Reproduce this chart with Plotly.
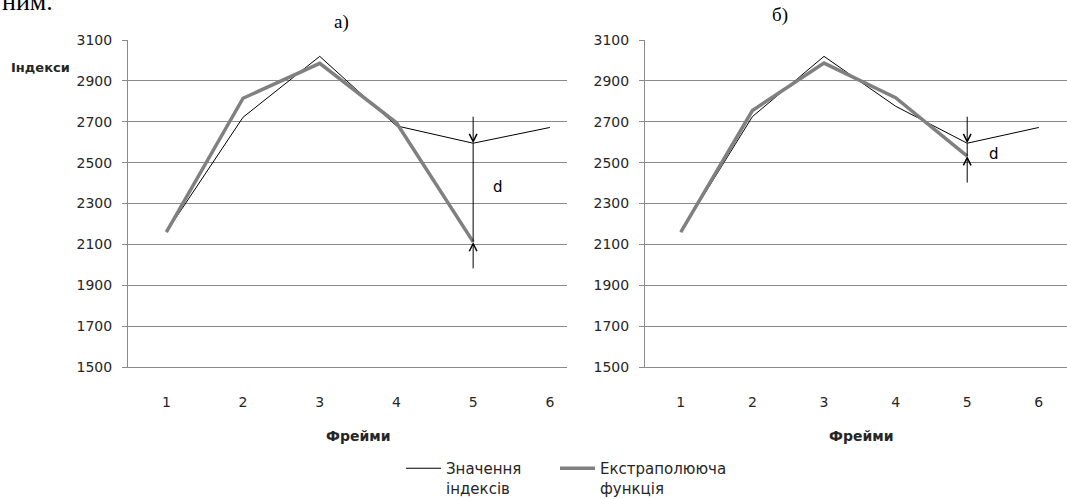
import plotly.graph_objects as go

# ---- data ----
frames = [1, 2, 3, 4, 5, 6]
tick_labels = ["1", "2", "3", "4", "5", "6"]
a_index = [2160, 2722, 3020, 2680, 2595, 2672]      # Значення індексів (а)
a_extrap = [2160, 2815, 2986, 2695, 2112]           # Екстраполююча функція (а)
b_index = [2160, 2725, 3020, 2776, 2595, 2672]      # Значення індексів (б)
b_extrap = [2160, 2755, 2987, 2818, 2532]           # Екстраполююча функція (б)
y_ticks = [1500, 1700, 1900, 2100, 2300, 2500, 2700, 2900, 3100]

W, H = 1067, 499
GRID = "#8a8a8a"
TXT = "#262626"
FONT = "DejaVu Sans"

def px(x):
    return x / W

def py(y):
    return 1 - y / H

fig = go.Figure()

name1 = "Значення<br>індексів"
name2 = "Екстраполююча<br>функція"

fig.add_trace(go.Scatter(x=frames, y=a_index, mode="lines", name=name1, legend="legend",
                         line=dict(color="#000000", width=1), xaxis="x", yaxis="y"))
fig.add_trace(go.Scatter(x=frames[:len(a_extrap)], y=a_extrap, mode="lines", name=name2, legend="legend2",
                         line=dict(color="#808080", width=3.5), xaxis="x", yaxis="y"))
fig.add_trace(go.Scatter(x=frames, y=b_index, mode="lines", name=name1, showlegend=False,
                         line=dict(color="#000000", width=1), xaxis="x2", yaxis="y2"))
fig.add_trace(go.Scatter(x=frames[:len(b_extrap)], y=b_extrap, mode="lines", name=name2, showlegend=False,
                         line=dict(color="#808080", width=3.5), xaxis="x2", yaxis="y2"))

y_dom = [py(367), py(40)]
common_x = dict(tickvals=frames, ticktext=tick_labels, showgrid=False, zeroline=False,
                showline=True, linecolor=GRID, linewidth=1, ticks="", automargin=False,
                tickfont=dict(family=FONT, size=14, color=TXT), ticklabelstandoff=22)
common_y = dict(range=[1500, 3100], tickvals=y_ticks, showgrid=True, gridcolor=GRID, gridwidth=1,
                zeroline=False, showline=True, linecolor=GRID, linewidth=1, automargin=False,
                ticks="outside", ticklen=5, tickcolor=GRID,
                tickfont=dict(family=FONT, size=14, color=TXT), ticklabelstandoff=7)

leg_common = dict(orientation="h", xanchor="left", y=-0.01, yanchor="bottom", valign="top",
                  font=dict(family=FONT, size=15, color=TXT), bgcolor="rgba(0,0,0,0)", itemwidth=35)

fig.update_layout(
    template="none",
    width=W, height=H, margin=dict(l=0, r=0, t=0, b=0, autoexpand=False),
    paper_bgcolor="white", plot_bgcolor="white",
    xaxis=dict(domain=[px(128), px(567)], range=[0.5, 0.5 + 439 / 76.7], anchor="y", **common_x),
    yaxis=dict(domain=y_dom, anchor="x", **common_y),
    xaxis2=dict(domain=[px(645), 1.0], range=[0.5, 0.5 + 422 / 71.6], anchor="y2", **common_x),
    yaxis2=dict(domain=y_dom, anchor="x2", **common_y),
    legend=dict(x=px(401), **leg_common),
    legend2=dict(x=px(555), **leg_common),
    showlegend=True,
)

def txt(text, x, y, size, family=FONT, **kw):
    return dict(text=text, x=x, y=y, xref="paper", yref="paper", showarrow=False,
                xanchor=kw.get("xanchor", "center"), yanchor=kw.get("yanchor", "middle"),
                font=dict(family=family, size=size, color=kw.get("color", TXT)))

ann = []
# panel labels
ann.append(txt("а)", px(341), py(22), 19, "Liberation Serif", color="#000"))
ann.append(txt("б)", px(780), py(15), 19, "Liberation Serif", color="#000"))
# cut-off document text at the very top
ann.append(txt("ним.", px(0), py(18), 26, "Liberation Serif", color="#000",
               xanchor="left", yanchor="bottom"))
# axis titles
ann.append(txt("<b>Індекси</b>", px(40), py(67), 13))
ann.append(txt("<b>Фрейми</b>", px(358), py(436), 14))
ann.append(txt("<b>Фрейми</b>", px(861), py(436), 14))

shapes = []
# d markers
for xa, ya, idx_vals, ext_vals, dx, dy in [("x", "y", a_index, a_extrap, 5.32, 2383),
                                          ("x2", "y2", b_index, b_extrap, 5.37, 2543)]:
    i = 4
    top_v = idx_vals[i]
    bot_v = ext_vals[i]
    xv = frames[i]
    ann.append(dict(x=xv, y=top_v, xref=xa, yref=ya, ax=0, ay=-28, text="", showarrow=True,
                    arrowhead=5, arrowsize=1.5, arrowwidth=1, arrowcolor="#000"))
    ann.append(dict(x=xv, y=bot_v, xref=xa, yref=ya, ax=0, ay=28, text="", showarrow=True,
                    arrowhead=5, arrowsize=1.5, arrowwidth=1, arrowcolor="#000"))
    shapes.append(dict(type="line", xref=xa, yref=ya, x0=xv, x1=xv, y0=bot_v, y1=top_v,
                       line=dict(color="#000", width=1)))
    ann.append(dict(text="d", x=dx, y=dy, xref=xa, yref=ya, showarrow=False,
                    xanchor="center", yanchor="middle",
                    font=dict(family=FONT, size=15, color="#000")))

fig.update_layout(annotations=ann, shapes=shapes)
fig.write_html("out.html", config={"displayModeBar": False},
               post_script="document.body.style.margin='0px';")
